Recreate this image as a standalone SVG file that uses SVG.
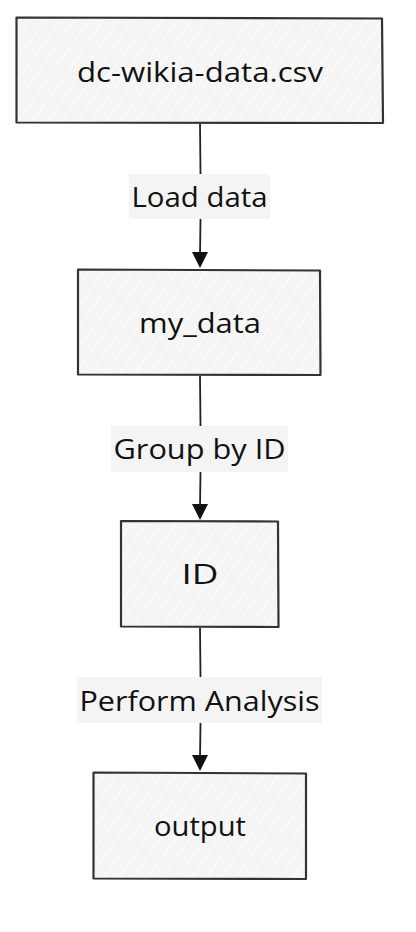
<svg xmlns="http://www.w3.org/2000/svg" width="416" height="932" viewBox="0 0 416 932">
<style>
.box{fill:url(#hatch);stroke:#333;stroke-width:2.2;stroke-linejoin:round}
.edge{fill:none;stroke:#222;stroke-width:1.8}
.lbl{fill:#f4f4f4}
text{font-family:"Open Sans","Liberation Sans",sans-serif;font-size:28px;fill:#111;text-anchor:middle}
</style>
<defs>
<pattern id="hatch" patternUnits="userSpaceOnUse" width="12" height="12" patternTransform="rotate(35)">
<rect width="12" height="12" fill="#f5f5f5"/>
<line x1="0" y1="0" x2="0" y2="12" stroke="#fdfdfd" stroke-width="2"/>
</pattern>
</defs>
<rect width="416" height="932" fill="#fff"/>
<g id="connectors">
<path class="edge" d="M200,124 L200.5,175"/>
<path class="edge" d="M200.5,219 L200,256"/>
<path d="M192,252 L208,252 L200,268 z" fill="#111"/>
<path class="edge" d="M200,376 L200.5,426"/>
<path class="edge" d="M200.5,472 L200,508"/>
<path d="M192,504 L208,504 L200,520 z" fill="#111"/>
<path class="edge" d="M200,628 L200.5,677"/>
<path class="edge" d="M200.5,723 L200,759"/>
<path d="M192,755 L208,755 L200,771 z" fill="#111"/>
<g id="label-load">
<rect class="lbl" x="129" y="174" width="141" height="45"/>
<text x="199.5" y="207" textLength="136" lengthAdjust="spacingAndGlyphs">Load data</text>
</g>
<g id="label-group">
<rect class="lbl" x="111" y="426" width="177" height="46"/>
<text x="199.5" y="459" textLength="172" lengthAdjust="spacingAndGlyphs">Group by ID</text>
</g>
<g id="label-analysis">
<rect class="lbl" x="77" y="677" width="245" height="46"/>
<text x="199.5" y="711" textLength="240" lengthAdjust="spacingAndGlyphs">Perform Analysis</text>
</g>
</g>
<g id="node-csv">
<path class="box" d="M16.5,17.5 L382,18.5 L383,123 L16.5,122.5 Z"/>
<text x="200" y="82" textLength="246" lengthAdjust="spacingAndGlyphs">dc-wikia-data.csv</text>
</g>
<g id="node-mydata">
<path class="box" d="M78,269.5 L320,270.5 L320.5,375 L78,374.5 Z"/>
<text x="200" y="333" textLength="122" lengthAdjust="spacingAndGlyphs">my_data</text>
</g>
<g id="node-id">
<path class="box" d="M121,521 L278,521.5 L278.5,627 L121,626.5 Z"/>
<text x="200" y="584" textLength="37" lengthAdjust="spacingAndGlyphs">ID</text>
</g>
<g id="node-output">
<path class="box" d="M93.5,772.5 L306,773.5 L306,879 L93.5,878.5 Z"/>
<text x="200" y="836" textLength="92" lengthAdjust="spacingAndGlyphs">output</text>
</g>
</svg>
